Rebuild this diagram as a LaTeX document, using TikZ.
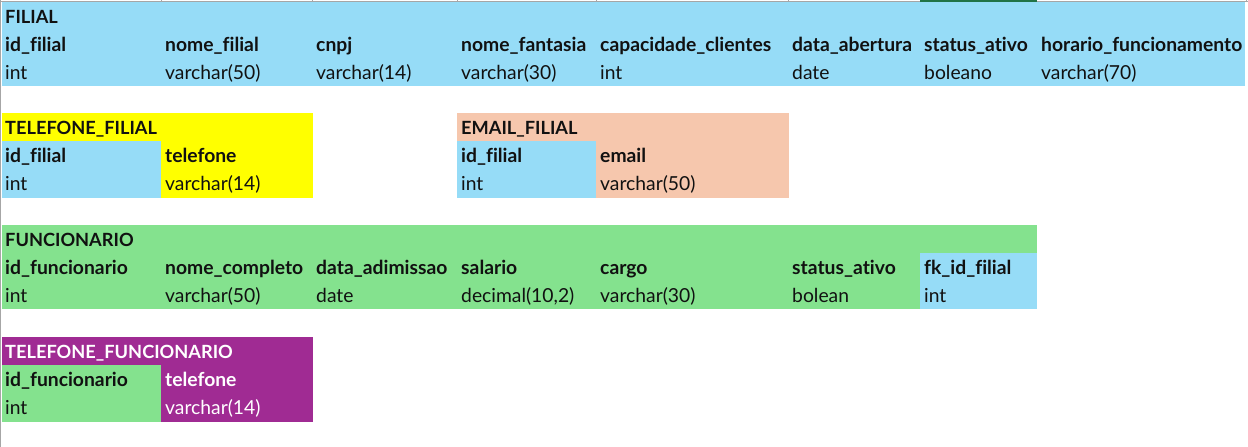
\documentclass[tikz,border=0pt]{standalone}
\usepackage{fontspec}
\setmainfont{Lato}[Ligatures=NoCommon]
\definecolor{ink}{HTML}{111111}
\definecolor{cblue}{HTML}{96DCF7}
\definecolor{cyellow}{HTML}{FFFF00}
\definecolor{csalmon}{HTML}{F6C7AD}
\definecolor{cgreen}{HTML}{84E28E}
\definecolor{cpurple}{HTML}{A02B93}
\definecolor{gridgray}{HTML}{A6A6A6}
\definecolor{selgreen}{HTML}{217346}
\begin{document}
\begin{tikzpicture}[x=1pt,y=-1pt,
  txt/.style={anchor=base west, inner sep=0pt, font=\fontsize{19.3}{21}\selectfont, text=ink},
  hd/.style={txt, font=\fontsize{19.3}{21}\selectfont\bfseries},
  tabletitle/.style={txt, font=\fontsize{18.2}{20}\selectfont\bfseries},
  fillbox/.style={draw=none, inner sep=0pt, outer sep=0pt, anchor=north west},
  gridline/.style={draw=gridgray, line width=1pt}]
\useasboundingbox (0,0) rectangle (1248,447);
\fill[white] (0,0) rectangle (1248,447);

% sheet grid edges
\draw[gridline] (0,1.5) -- (1248,1.5);
\foreach \gx in {161,312,457,596,788,1246} \draw[gridline] (\gx,0) -- (\gx,2);
\draw[gridline] (0.5,0) -- (0.5,447);
\fill[selgreen] (920,0) rectangle (1037,2.5);

% ---------- FILIAL ----------
\node[fillbox, fill=cblue, minimum width=1243pt, minimum height=84pt] (filialbg) at (2,2) {};
\node[tabletitle] (filialT) at (5,23.5) {FILIAL};
\node[hd] (f1) at (5,51.5) {id\_filial};
\node[hd] (f2) at (165,51.5) {nome\_filial};
\node[hd] (f3) at (316,51.5) {cnpj};
\node[hd] (f4) at (461,51.5) {nome\_fantasia};
\node[hd] (f5) at (600,51.5) {capacidade\_clientes};
\node[hd] (f6) at (792,51.5) {data\_abertura};
\node[hd] (f7) at (924,51.5) {status\_ativo};
\node[hd] (f8) at (1041,51.5) {horario\_funcionamento};
\node[txt] (t1) at (5,79.5) {int};
\node[txt] (t2) at (165,79.5) {varchar(50)};
\node[txt] (t3) at (316,79.5) {varchar(14)};
\node[txt] (t4) at (461,79.5) {varchar(30)};
\node[txt] (t5) at (600,79.5) {int};
\node[txt] (t6) at (792,79.5) {date};
\node[txt] (t7) at (924,79.5) {boleano};
\node[txt] (t8) at (1041,79.5) {varchar(70)};

% ---------- TELEFONE_FILIAL ----------
\node[fillbox, fill=cyellow, minimum width=311pt, minimum height=85pt] (telfbg) at (2,113) {};
\node[fillbox, fill=cblue, minimum width=159pt, minimum height=57pt] (telfid) at (2,141) {};
\node[tabletitle] (telfT) at (5,134.5) {TELEFONE\_FILIAL};
\node[hd] (tf1) at (5,162.5) {id\_filial};
\node[hd] (tf2) at (165,162.5) {telefone};
\node[txt] (tt1) at (5,190.5) {int};
\node[txt] (tt2) at (165,190.5) {varchar(14)};

% ---------- EMAIL_FILIAL ----------
\node[fillbox, fill=csalmon, minimum width=332pt, minimum height=85pt] (emailbg) at (457,113) {};
\node[fillbox, fill=cblue, minimum width=139pt, minimum height=57pt] (emailid) at (457,141) {};
\node[tabletitle] (emailT) at (461,134.5) {EMAIL\_FILIAL};
\node[hd] (ef1) at (461,162.5) {id\_filial};
\node[hd] (ef2) at (600,162.5) {email};
\node[txt] (et1) at (461,190.5) {int};
\node[txt] (et2) at (600,190.5) {varchar(50)};

% ---------- FUNCIONARIO ----------
\node[fillbox, fill=cgreen, minimum width=1035pt, minimum height=84pt] (funcbg) at (2,225) {};
\node[fillbox, fill=cblue, minimum width=117pt, minimum height=56pt] (funcfk) at (920,253) {};
\node[tabletitle] (funcT) at (5,246.5) {FUNCIONARIO};
\node[hd] (g1) at (5,274.5) {id\_funcionario};
\node[hd] (g2) at (165,274.5) {nome\_completo};
\node[hd] (g3) at (316,274.5) {data\_adimissao};
\node[hd] (g4) at (461,274.5) {salario};
\node[hd] (g5) at (600,274.5) {cargo};
\node[hd] (g6) at (792,274.5) {status\_ativo};
\node[hd] (g7) at (924,274.5) {fk\_id\_filial};
\node[txt] (h1) at (5,302.5) {int};
\node[txt] (h2) at (165,302.5) {varchar(50)};
\node[txt] (h3) at (316,302.5) {date};
\node[txt] (h4) at (461,302.5) {decimal(10,2)};
\node[txt] (h5) at (600,302.5) {varchar(30)};
\node[txt] (h6) at (792,302.5) {bolean};
\node[txt] (h7) at (924,302.5) {int};

% ---------- TELEFONE_FUNCIONARIO ----------
\node[fillbox, fill=cpurple, minimum width=311pt, minimum height=85pt] (telgbg) at (2,337) {};
\node[fillbox, fill=cgreen, minimum width=159pt, minimum height=57pt] (telgid) at (2,365) {};
\node[tabletitle, text=white] (telgT) at (5,358.5) {TELEFONE\_FUNCIONARIO};
\node[hd] (tg1) at (5,386.5) {id\_funcionario};
\node[hd, text=white] (tg2) at (165,386.5) {telefone};
\node[txt] (tgt1) at (5,414.5) {int};
\node[txt, text=white] (tgt2) at (165,414.5) {varchar(14)};
\end{tikzpicture}
\end{document}
